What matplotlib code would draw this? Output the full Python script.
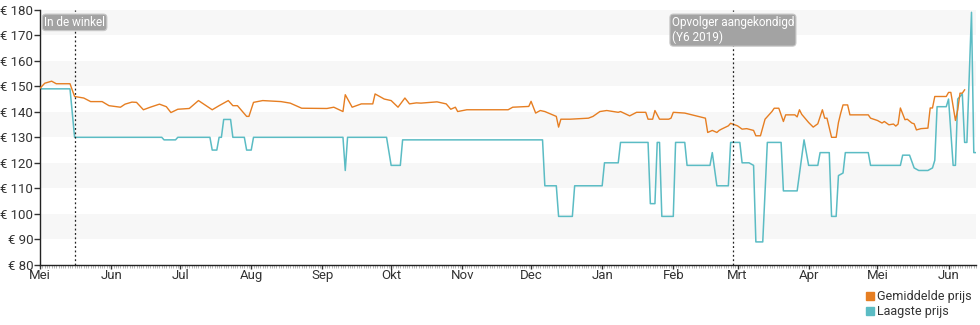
"""Prijsverloop: gemiddelde en laagste prijs."""

import matplotlib

matplotlib.use("Agg")
import matplotlib.pyplot as plt
import matplotlib.dates as mdates
from matplotlib.lines import Line2D
from matplotlib.ticker import FuncFormatter
import pandas as pd

plt.rcParams["font.family"] = ["Roboto", "DejaVu Sans"]

avg_dates = [
    "2018-05-01", "2018-05-03", "2018-05-06", "2018-05-08", "2018-05-14", "2018-05-16",
    "2018-05-20", "2018-05-23", "2018-05-28", "2018-05-31", "2018-06-05", "2018-06-07",
    "2018-06-10", "2018-06-12", "2018-06-15", "2018-06-18", "2018-06-22", "2018-06-25",
    "2018-06-27", "2018-06-30", "2018-07-05", "2018-07-09", "2018-07-10", "2018-07-15",
    "2018-07-18", "2018-07-22", "2018-07-24", "2018-07-26", "2018-07-30", "2018-07-31",
    "2018-08-02", "2018-08-06", "2018-08-14", "2018-08-18", "2018-08-23", "2018-09-03",
    "2018-09-06", "2018-09-10", "2018-09-11", "2018-09-14", "2018-09-18", "2018-09-23",
    "2018-09-24", "2018-09-28", "2018-10-01", "2018-10-04", "2018-10-07", "2018-10-09",
    "2018-10-12", "2018-10-14", "2018-10-21", "2018-10-25", "2018-10-27", "2018-10-29",
    "2018-10-30", "2018-11-03", "2018-11-21", "2018-11-23", "2018-11-30", "2018-12-01",
    "2018-12-03", "2018-12-05", "2018-12-07", "2018-12-12", "2018-12-13", "2018-12-14",
    "2018-12-18", "2018-12-26", "2018-12-28", "2018-12-31", "2019-01-03", "2019-01-08",
    "2019-01-09", "2019-01-13", "2019-01-16", "2019-01-20", "2019-01-21", "2019-01-23",
    "2019-01-24", "2019-01-26", "2019-01-30", "2019-01-31", "2019-02-01", "2019-02-06",
    "2019-02-15", "2019-02-16", "2019-02-18", "2019-02-20", "2019-02-21", "2019-02-22",
    "2019-02-25", "2019-02-26", "2019-03-01", "2019-03-03", "2019-03-05", "2019-03-08",
    "2019-03-09", "2019-03-11", "2019-03-13", "2019-03-16", "2019-03-17", "2019-03-19",
    "2019-03-21", "2019-03-22", "2019-03-26", "2019-03-27", "2019-03-28", "2019-03-29",
    "2019-04-01", "2019-04-03", "2019-04-05", "2019-04-07", "2019-04-08", "2019-04-09",
    "2019-04-11", "2019-04-13", "2019-04-14", "2019-04-15", "2019-04-16", "2019-04-18",
    "2019-04-19", "2019-04-27", "2019-04-28", "2019-05-01", "2019-05-03", "2019-05-04",
    "2019-05-06", "2019-05-08", "2019-05-09", "2019-05-10", "2019-05-11", "2019-05-13",
    "2019-05-14", "2019-05-16", "2019-05-17", "2019-05-18", "2019-05-20", "2019-05-23",
    "2019-05-24", "2019-05-25", "2019-05-26", "2019-05-31", "2019-06-01", "2019-06-02",
    "2019-06-04", "2019-06-05", "2019-06-06", "2019-06-07", "2019-06-08",
]
avg_prices = [
    149.3, 151.2, 152.0, 151.0, 151.0, 146.0,
    145.4, 144.0, 144.0, 142.4, 141.8, 143.0,
    143.8, 143.7, 140.8, 141.8, 143.0, 142.0,
    139.7, 141.0, 141.3, 144.4, 143.8, 140.8,
    142.4, 144.4, 142.4, 142.4, 138.2, 138.2,
    143.7, 144.4, 144.0, 143.4, 141.4, 141.3,
    141.8, 140.1, 146.7, 141.8, 143.1, 143.1,
    147.0, 145.0, 144.4, 141.8, 145.4, 143.1,
    143.5, 143.4, 143.9, 143.1, 141.0, 141.8,
    140.1, 140.8, 140.8, 141.8, 142.1, 144.1,
    139.5, 140.5, 140.1, 138.2, 134.0, 137.1,
    137.1, 137.5, 138.2, 140.1, 140.5, 139.8,
    140.1, 138.4, 139.8, 139.8, 137.1, 137.1,
    140.5, 137.1, 137.1, 137.5, 139.8, 139.5,
    137.5, 131.9, 132.7, 131.9, 132.7, 133.2,
    134.5, 135.5, 134.5, 133.2, 133.4, 132.7,
    130.6, 130.6, 137.1, 140.1, 141.4, 141.4,
    136.2, 138.8, 138.8, 138.0, 140.8, 139.0,
    135.8, 134.0, 135.3, 140.8, 137.5, 137.5,
    130.0, 130.0, 135.8, 139.5, 142.7, 142.7,
    138.8, 138.8, 137.5, 136.6, 135.6, 136.2,
    134.9, 135.2, 134.4, 135.2, 141.5, 136.9,
    137.1, 135.6, 135.3, 132.9, 133.4, 133.6,
    141.5, 141.5, 146.0, 146.0, 147.6, 147.6,
    136.6, 140.8, 147.3, 147.3, 148.6,
]

low_dates = [
    "2018-05-01", "2018-05-14", "2018-05-16", "2018-06-23", "2018-06-24", "2018-06-29",
    "2018-06-30", "2018-07-14", "2018-07-15", "2018-07-17", "2018-07-18", "2018-07-19",
    "2018-07-20", "2018-07-23", "2018-07-24", "2018-07-29", "2018-07-30", "2018-08-01",
    "2018-08-02", "2018-09-10", "2018-09-11", "2018-09-12", "2018-09-29", "2018-10-01",
    "2018-10-05", "2018-10-06", "2018-12-06", "2018-12-07", "2018-12-12", "2018-12-13",
    "2018-12-19", "2018-12-20", "2019-01-01", "2019-01-02", "2019-01-08", "2019-01-09",
    "2019-01-21", "2019-01-22", "2019-01-24", "2019-01-25", "2019-01-26", "2019-01-27",
    "2019-02-01", "2019-02-02", "2019-02-06", "2019-02-07", "2019-02-17", "2019-02-18",
    "2019-02-20", "2019-02-25", "2019-02-26", "2019-03-02", "2019-03-03", "2019-03-06",
    "2019-03-08", "2019-03-09", "2019-03-12", "2019-03-14", "2019-03-20", "2019-03-21",
    "2019-03-27", "2019-03-30", "2019-04-01", "2019-04-05", "2019-04-06", "2019-04-10",
    "2019-04-11", "2019-04-13", "2019-04-14", "2019-04-16", "2019-04-17", "2019-04-27",
    "2019-04-28", "2019-05-11", "2019-05-12", "2019-05-15", "2019-05-17", "2019-05-19",
    "2019-05-23", "2019-05-25", "2019-05-26", "2019-05-27", "2019-05-31", "2019-06-01",
    "2019-06-03", "2019-06-04", "2019-06-05", "2019-06-07", "2019-06-08", "2019-06-09",
    "2019-06-11", "2019-06-12", "2019-06-13",
]
low_prices = [
    149, 149, 130, 130, 129, 129,
    130, 130, 125, 125, 130, 130,
    137, 137, 130, 130, 125, 125,
    130, 130, 117, 130, 130, 119,
    119, 129, 129, 111, 111, 99,
    99, 111, 111, 120, 120, 128,
    128, 104, 104, 128, 128, 99,
    99, 128, 128, 119, 119, 124,
    111, 111, 128, 128, 120, 120,
    119, 89, 89, 128, 128, 109,
    109, 129, 119, 119, 124, 124,
    99, 99, 115, 116, 124, 124,
    119, 119, 123, 123, 118, 117,
    117, 118, 121, 142, 142, 145,
    119, 119, 145, 147, 128, 128,
    179, 124, 124,
]

event_dates = ["2018-05-16", "2019-02-27"]
event_labels = ["In de winkel", "Opvolger aangekondigd\n(Y6 2019)"]

month_names = ["Jan", "Feb", "Mrt", "Apr", "Mei", "Jun",
               "Jul", "Aug", "Sep", "Okt", "Nov", "Dec"]

avg_color = "#e67e22"
low_color = "#5bbcc4"

fig = plt.figure(figsize=(9.8, 3.25), dpi=100)
ax = fig.add_axes([0.041, 0.185, 0.955, 0.785])

for lo in range(90, 180, 20):
    ax.axhspan(lo, lo + 10, color="#f7f7f7", lw=0, zorder=0)

ax.plot(pd.to_datetime(avg_dates), avg_prices, color=avg_color, lw=1.0, zorder=3)
ax.plot(pd.to_datetime(low_dates), low_prices, color=low_color, lw=1.1, zorder=2)

for date, label in zip(event_dates, event_labels):
    d = pd.Timestamp(date)
    ax.axvline(d, color="#222222", lw=0.9, ls=(0, (1.5, 2)), zorder=4)
    ax.text(d, 177.6, label, ha="center", va="top", multialignment="left",
            color="white", fontsize=8.5, zorder=5,
            bbox=dict(boxstyle="round,pad=0.15,rounding_size=0.3",
                      fc="#a3a3a3", ec="#c8c8c8", lw=0.8))

ax.set_xlim(pd.Timestamp("2018-05-01"), pd.Timestamp("2019-06-13"))
ax.set_ylim(80, 180)
ax.set_yticks(range(80, 181, 10))
ax.yaxis.set_major_formatter(FuncFormatter(lambda v, _: f"€ {v:.0f}"))

ax.xaxis.set_major_locator(mdates.MonthLocator())
ax.xaxis.set_major_formatter(
    FuncFormatter(lambda v, _: month_names[mdates.num2date(v).month - 1]))
ax.xaxis.set_minor_locator(mdates.DayLocator())

ax.tick_params(axis="both", which="major", length=4, width=1, color="#333333",
               labelsize=9.5, labelcolor="#333333", pad=1)
ax.tick_params(axis="x", which="major", length=3, pad=0)
ax.tick_params(axis="x", which="minor", length=2, width=0.5, color="#999999")

for side in ("top", "right"):
    ax.spines[side].set_visible(False)
for side in ("left", "bottom"):
    ax.spines[side].set_color("#222222")
    ax.spines[side].set_linewidth(1.0)

handles = [
    Line2D([], [], ls="none", marker="s", ms=5.5, color=avg_color),
    Line2D([], [], ls="none", marker="s", ms=5.5, color=low_color),
]
fig.legend(handles, ["Gemiddelde prijs", "Laagste prijs"], loc="lower right",
           bbox_to_anchor=(1.0, -0.005), frameon=False, fontsize=9,
           handlelength=0.6, handletextpad=0.2, labelspacing=0.15,
           labelcolor="#333333", borderaxespad=0.3)

fig.savefig("out.png", dpi=100)
